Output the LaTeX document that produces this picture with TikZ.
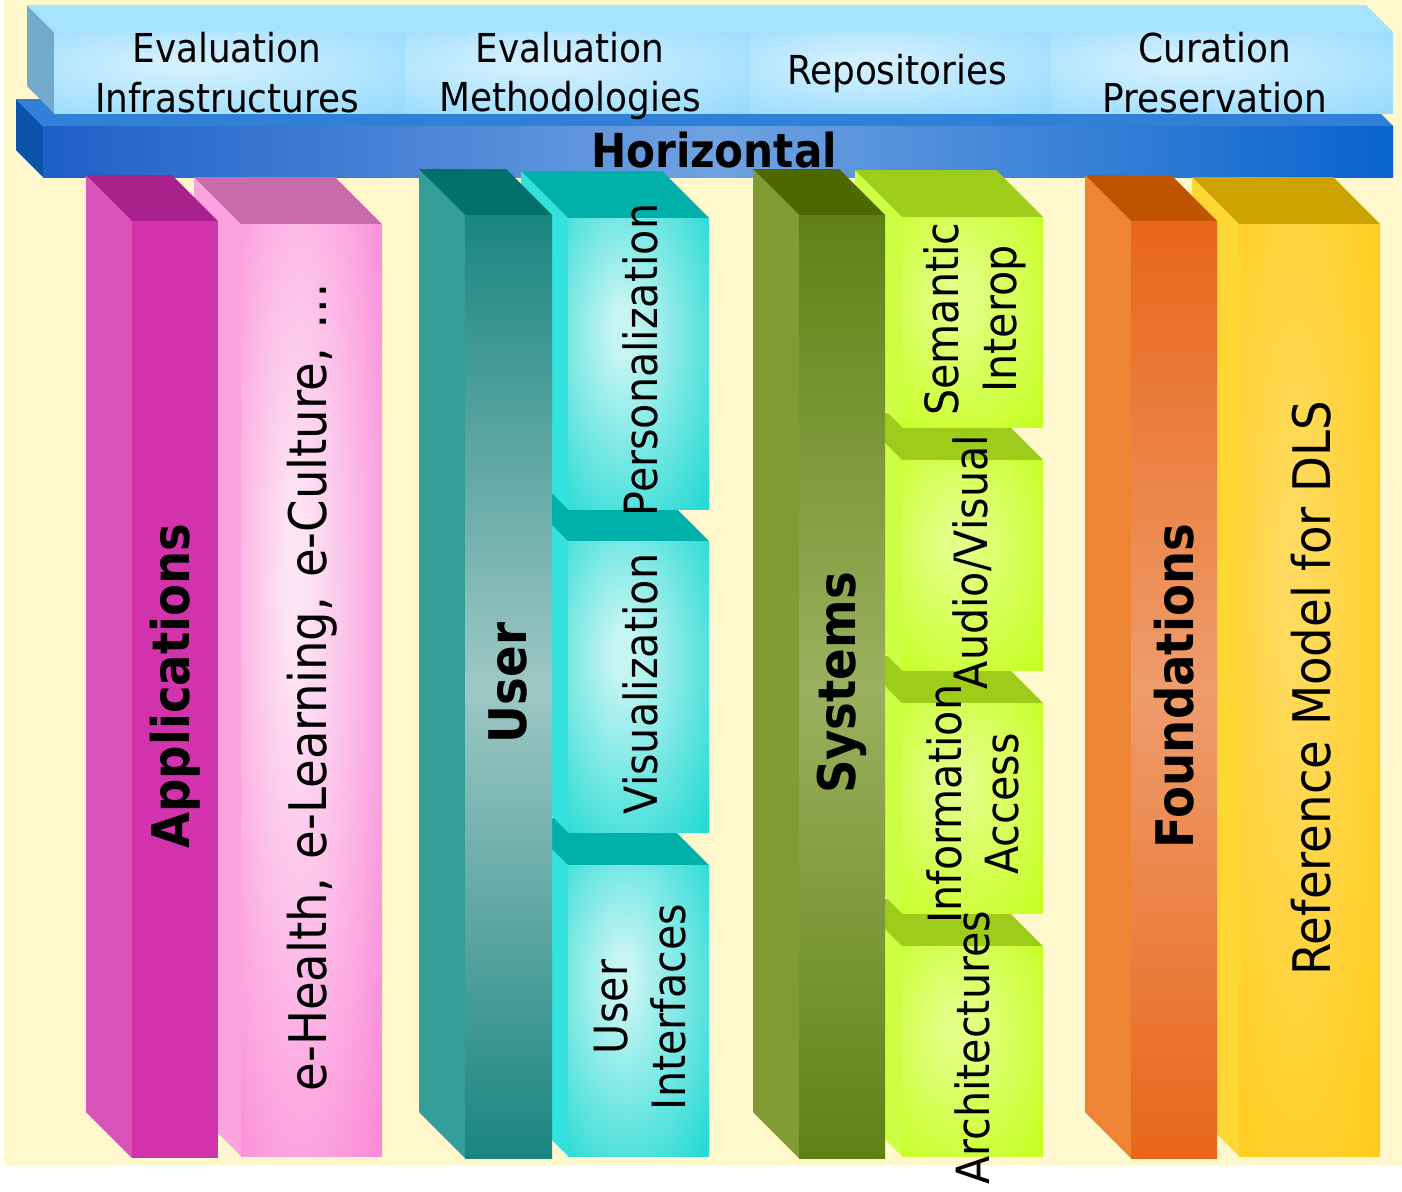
\documentclass[tikz,border=0pt]{standalone}
\usepackage{fontspec}
\setmainfont{DejaVu Sans Condensed}
\usepackage{tikz}

\definecolor{bg}{HTML}{FFF8CC}
\definecolor{appside}{HTML}{D955BC}\definecolor{apptop}{HTML}{A8228C}\definecolor{appfront}{HTML}{D332AD}
\definecolor{pinkside}{HTML}{FCA2DE}\definecolor{pinktop}{HTML}{C96BA8}\definecolor{pinkfront}{HTML}{FB8AD7}\definecolor{pinklight}{HTML}{FDE4F4}
\definecolor{tealside}{HTML}{339E99}\definecolor{tealtop}{HTML}{00706A}\definecolor{tealfront}{HTML}{1A8580}\definecolor{teallight}{HTML}{9EC7C5}
\definecolor{cyanside}{HTML}{33E2DD}\definecolor{cyantop}{HTML}{00B1AB}\definecolor{cyanfront}{HTML}{25DAD4}\definecolor{cyanlight}{HTML}{C6F5F3}
\definecolor{oliveside}{HTML}{7F9B31}\definecolor{olivetop}{HTML}{4E6800}\definecolor{olivefront}{HTML}{5F8114}\definecolor{olivelight}{HTML}{9AB05E}
\definecolor{limeside}{HTML}{CCFF44}\definecolor{limetop}{HTML}{9ECC1A}\definecolor{limefront}{HTML}{C6FF22}\definecolor{limelight}{HTML}{E2FF86}
\definecolor{orangeside}{HTML}{EE8535}\definecolor{orangetop}{HTML}{BF5300}\definecolor{orangefront}{HTML}{E8661A}\definecolor{orangelight}{HTML}{EE9C6C}
\definecolor{goldside}{HTML}{FFD733}\definecolor{goldtop}{HTML}{CCA300}\definecolor{goldfront}{HTML}{FFCC1B}\definecolor{goldlight}{HTML}{FFDA5E}
\definecolor{skyside}{HTML}{71AACB}\definecolor{skytop}{HTML}{A5E3FF}\definecolor{skyfront}{HTML}{98DBFD}\definecolor{skylight}{HTML}{D2F0FF}
\definecolor{blueside}{HTML}{0A53A8}\definecolor{bluetop}{HTML}{2F80D6}\definecolor{blueleft}{HTML}{1E5FC8}\definecolor{bluemid}{HTML}{6FA2E1}\definecolor{blueright}{HTML}{0863CD}
\colorlet{glowin}{white}\colorlet{glowout}{white}

\pgfdeclareradialshading[glowin,glowout]{glow}{\pgfpoint{-6bp}{6bp}}%
  {color(0bp)=(glowin); color(4bp)=(glowin); color(38bp)=(glowout); color(80bp)=(glowout)}

% front corner x, y, width, height, depth, side, top, front
\newcommand{\pillar}[8]{%
  \fill[#6] (#1,#2) -- ++(-#5,-#5) -- ++(0,#4) -- ++(#5,#5) -- cycle;
  \fill[#7] (#1,#2) -- ++(-#5,-#5) -- ++(#3,0) -- ++(#5,#5) -- cycle;
  \fill[#8] (#1,#2) rectangle ++(#3,#4);
}

\tikzset{
  glow/.style 2 args={/utils/exec={\colorlet{glowin}{#1}\colorlet{glowout}{#2}}, shade, shading=glow},
  toplabel/.style={align=center, font=\fontsize{40}{50}\selectfont},
  boxlabel/.style={rotate=90, align=center, font=\fontsize{46}{58}\selectfont},
  collabel/.style={rotate=90, font=\fontsize{52}{62}\selectfont},
  keylabel/.style={rotate=90, font=\fontsize{52}{62}\selectfont\bfseries}
}

\begin{document}
\begin{tikzpicture}[x=1bp,y=-1bp]
  \useasboundingbox (0,0) rectangle (1402,1191);
  \fill[bg] (4,0) rectangle (1402,1165);

  \pillar{43}{126}{1350}{51}{27}{blueside}{bluetop}{left color=blueleft,right color=blueright,middle color=bluemid}
  \pillar{54}{32}{1339}{81}{27}{skyside}{skytop}{skyfront}
  \foreach \xa/\xb in {54/405, 405/750, 750/1051, 1051/1393}
    \fill[glow={skylight}{skyfront}] (\xa,32) rectangle (\xb,113);

  \node[font=\fontsize{47}{56}\selectfont\bfseries] (horiz) at (714,150) {Horizontal};
  \node[toplabel] (evalinfra) at (227,73) {Evaluation\\Infrastructures};
  \node[toplabel] (evalmeth) at (570,76) {Evaluation\\Methodologies};
  \node[toplabel] (repos) at (897,74) {Repositories};
  \node[toplabel] (curation) at (1215,73) {Curation\\Preservation};

  \pillar{241}{224}{141}{932}{47}{pinkside}{pinktop}{glow={pinklight}{pinkfront}}
  \pillar{132}{221}{86}{937}{46}{appside}{apptop}{appfront}

  \pillar{568}{865}{141}{291}{47}{cyanside}{cyantop}{glow={cyanlight}{cyanfront}}
  \pillar{568}{541}{141}{291}{47}{cyanside}{cyantop}{glow={cyanlight}{cyanfront}}
  \pillar{568}{218}{141}{291}{47}{cyanside}{cyantop}{glow={cyanlight}{cyanfront}}
  \pillar{465}{215}{87}{943}{46}{tealside}{tealtop}{top color=tealfront,bottom color=tealfront,middle color=teallight}

  \pillar{902}{946}{141}{210}{47}{limeside}{limetop}{glow={limelight}{limefront}}
  \pillar{902}{703}{141}{210}{47}{limeside}{limetop}{glow={limelight}{limefront}}
  \pillar{902}{460}{141}{210}{47}{limeside}{limetop}{glow={limelight}{limefront}}
  \pillar{902}{217}{141}{210}{47}{limeside}{limetop}{glow={limelight}{limefront}}
  \pillar{799}{215}{86}{943}{46}{oliveside}{olivetop}{top color=olivefront,bottom color=olivefront,middle color=olivelight}

  \pillar{1239}{224}{141}{932}{47}{goldside}{goldtop}{glow={goldlight}{goldfront}}
  \pillar{1131}{221}{86}{937}{46}{orangeside}{orangetop}{top color=orangefront,bottom color=orangefront,middle color=orangelight}

  \node[keylabel] (apps) at (175,686) {Applications};
  \node[collabel] (domains) at (312,687) {e-Health,\hspace{4bp} e-Learning,\hspace{4bp} e-Culture,\hspace{4bp} \dots};
  \node[keylabel] (user) at (508,683) {User};
  \node[boxlabel] (person) at (640,360) {Personalization};
  \node[boxlabel] (visual) at (640,684) {Visualization};
  \node[boxlabel] (ui) at (640,1007) {User\\Interfaces};
  \node[keylabel] (systems) at (842,683) {Systems};
  \node[boxlabel] (interop) at (975,319) {Semantic\\Interop};
  \node[boxlabel] (av) at (972,562) {Audio/Visual};
  \node[boxlabel] (infoacc) at (973,804) {Information\\Access};
  \node[boxlabel] (arch) at (972,1048) {Architectures};
  \node[keylabel] (found) at (1174,686) {Foundations};
  \node[collabel] (refmodel) at (1311,688) {Reference Model for DLS};
\end{tikzpicture}
\end{document}
